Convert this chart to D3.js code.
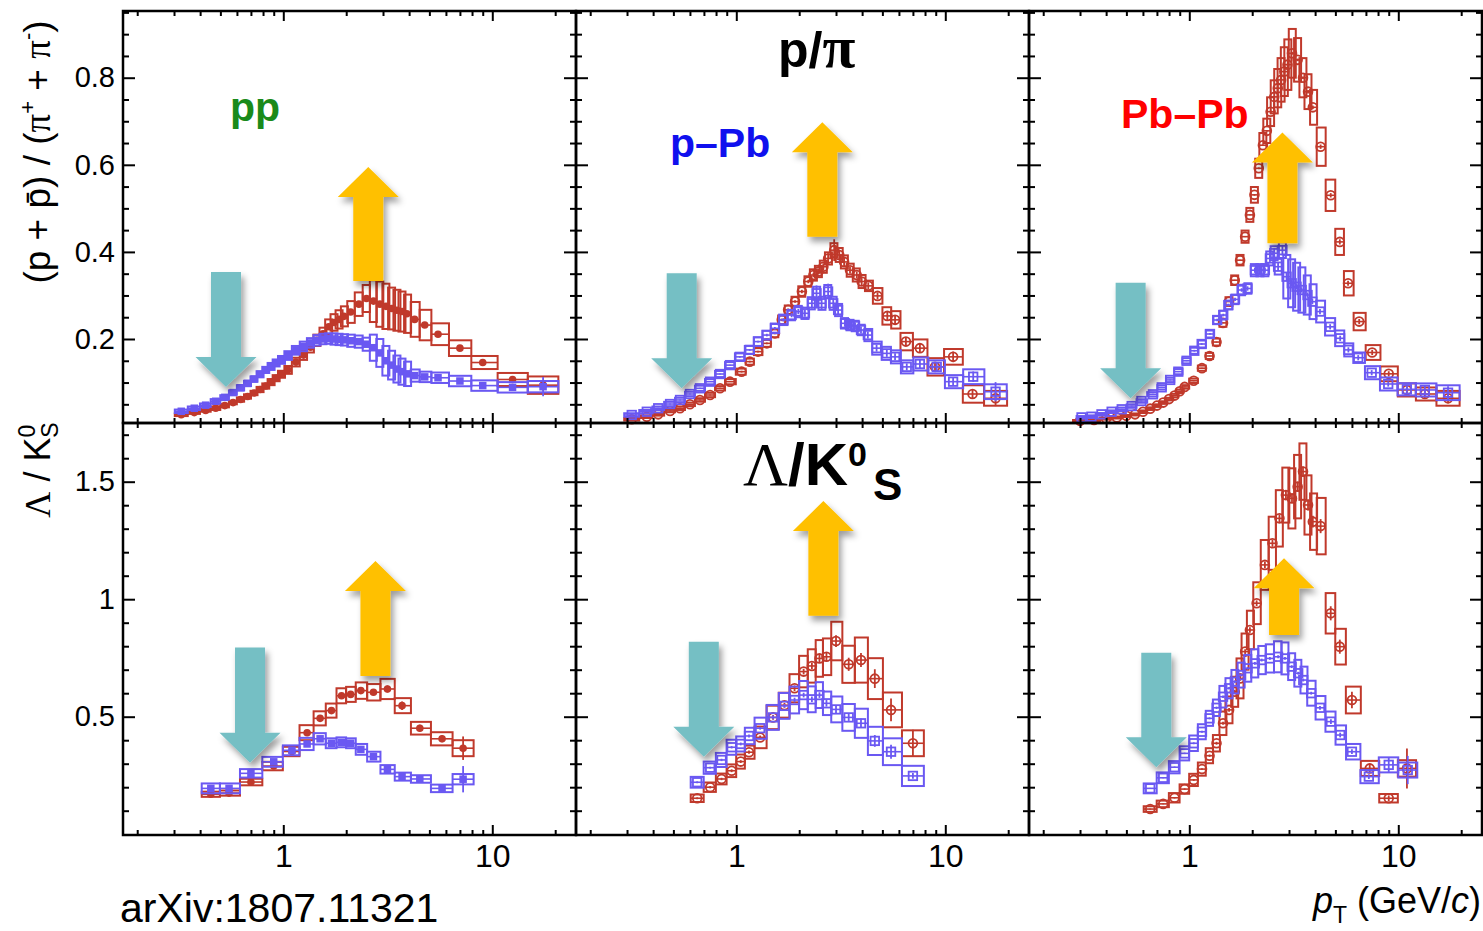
<!DOCTYPE html>
<html>
<head>
<meta charset="utf-8">
<script src="https://cdn.jsdelivr.net/npm/d3@7/dist/d3.min.js"></script>
<style>
  html, body { margin: 0; padding: 0; background: #fff; }
  svg { display: block; }
  text { font-family: "Liberation Sans", Arial, Helvetica, sans-serif; }
</style>
</head>
<body>
<svg id="chart" width="1483" height="931"></svg>
<script>
// ================= p/pi : pp (high / low multiplicity) =================
const ppPiPt = [0.325,0.375,0.425,0.475,0.525,0.575,0.625,0.675,0.725,0.775,0.825,0.875,0.925,0.975,1.05,1.15,1.25,1.35,1.45,1.55,1.65,1.75,1.85,1.95,2.1,2.3,2.5,2.7,2.9,3.1,3.3,3.5,3.7,3.9,4.25,4.75,5.5,7.0,9.0,12.5,17.5];
const ppPiHigh = [0.026,0.031,0.036,0.041,0.047,0.054,0.061,0.068,0.076,0.084,0.092,0.101,0.110,0.119,0.129,0.147,0.163,0.181,0.197,0.212,0.228,0.238,0.245,0.252,0.262,0.280,0.293,0.287,0.280,0.275,0.270,0.266,0.263,0.258,0.245,0.232,0.211,0.179,0.146,0.107,0.094];
const ppPiHighSys = [0.003,0.003,0.003,0.004,0.004,0.004,0.005,0.005,0.005,0.006,0.006,0.007,0.007,0.008,0.009,0.010,0.011,0.012,0.013,0.014,0.017,0.019,0.021,0.023,0.025,0.027,0.031,0.048,0.052,0.052,0.048,0.047,0.046,0.044,0.040,0.035,0.025,0.018,0.015,0.015,0.020];
const ppPiHighStat = [0.001,0.001,0.001,0.001,0.001,0.001,0.001,0.001,0.001,0.001,0.001,0.001,0.001,0.001,0.001,0.001,0.001,0.001,0.001,0.001,0.001,0.001,0.001,0.001,0.001,0.001,0.001,0.002,0.002,0.002,0.002,0.002,0.002,0.002,0.002,0.002,0.003,0.003,0.004,0.006,0.012];
const ppPiLow = [0.034,0.041,0.048,0.057,0.066,0.077,0.088,0.098,0.108,0.119,0.129,0.137,0.145,0.152,0.162,0.174,0.183,0.191,0.197,0.200,0.201,0.200,0.199,0.198,0.196,0.194,0.188,0.180,0.168,0.150,0.140,0.131,0.125,0.120,0.116,0.113,0.111,0.1035,0.093,0.089,0.0905];
const ppPiLowSys = [0.004,0.004,0.004,0.005,0.005,0.005,0.006,0.006,0.006,0.007,0.007,0.008,0.008,0.009,0.010,0.010,0.011,0.011,0.012,0.012,0.012,0.013,0.013,0.013,0.014,0.014,0.015,0.030,0.032,0.034,0.033,0.031,0.030,0.028,0.014,0.012,0.012,0.012,0.012,0.012,0.013];
const ppPiLowStat = [0.001,0.001,0.001,0.001,0.001,0.001,0.001,0.001,0.001,0.001,0.001,0.001,0.001,0.001,0.001,0.001,0.001,0.001,0.001,0.001,0.001,0.001,0.001,0.001,0.001,0.001,0.001,0.001,0.001,0.001,0.001,0.001,0.001,0.001,0.002,0.002,0.002,0.003,0.004,0.008,0.022];

// ================= p/pi : p-Pb =================
const pPbPiHighPt = [0.316,0.373,0.423,0.482,0.538,0.60,0.67,0.749,0.836,0.933,1.06,1.16,1.27,1.40,1.53,1.65,1.77,1.91,2.06,2.21,2.34,2.47,2.61,2.75,2.94,3.11,3.28,3.50,3.77,3.98,4.28,4.74,5.28,5.75,6.48,7.56,8.93,10.9,13.5,17.4];
const pPbPiHigh = [0.0156,0.0216,0.027,0.0347,0.041,0.050,0.060,0.0714,0.0868,0.102,0.125,0.148,0.171,0.190,0.213,0.244,0.267,0.286,0.309,0.332,0.347,0.355,0.366,0.385,0.404,0.393,0.377,0.358,0.347,0.332,0.322,0.299,0.253,0.244,0.194,0.179,0.136,0.159,0.0737,0.0638];
const pPbPiHighSys = [0.003,0.003,0.003,0.003,0.004,0.004,0.004,0.005,0.005,0.006,0.007,0.007,0.008,0.008,0.009,0.010,0.010,0.011,0.012,0.012,0.013,0.013,0.014,0.014,0.016,0.016,0.015,0.015,0.015,0.015,0.012,0.018,0.020,0.020,0.020,0.020,0.020,0.018,0.020,0.017];
const pPbPiHighStat = [0.001,0.001,0.001,0.001,0.001,0.001,0.001,0.001,0.001,0.001,0.002,0.002,0.002,0.002,0.002,0.003,0.003,0.003,0.004,0.004,0.005,0.006,0.008,0.012,0.025,0.012,0.010,0.008,0.008,0.008,0.008,0.008,0.010,0.010,0.010,0.010,0.010,0.012,0.010,0.018];
const pPbPiLowPt = [0.316,0.373,0.423,0.482,0.538,0.60,0.67,0.749,0.836,0.933,1.04,1.16,1.27,1.40,1.53,1.68,1.84,1.98,2.13,2.30,2.42,2.56,2.75,2.91,3.07,3.31,3.50,3.70,3.95,4.26,4.69,5.25,5.75,6.54,7.56,9.1,10.9,13.6,17.4];
const pPbPiLow = [0.0255,0.033,0.041,0.0507,0.060,0.0737,0.0868,0.102,0.1196,0.140,0.159,0.175,0.194,0.209,0.2245,0.244,0.255,0.263,0.259,0.282,0.305,0.282,0.309,0.282,0.2665,0.236,0.232,0.2298,0.2207,0.209,0.179,0.167,0.159,0.136,0.1426,0.136,0.102,0.1134,0.079];
const pPbPiLowSys = [0.004,0.004,0.004,0.005,0.005,0.005,0.006,0.006,0.007,0.007,0.008,0.009,0.010,0.010,0.011,0.012,0.012,0.013,0.013,0.014,0.015,0.015,0.015,0.015,0.014,0.012,0.012,0.012,0.012,0.014,0.015,0.015,0.015,0.015,0.015,0.015,0.015,0.017,0.017];
const pPbPiLowStat = [0.001,0.001,0.001,0.001,0.001,0.001,0.001,0.001,0.001,0.001,0.002,0.002,0.002,0.003,0.003,0.004,0.005,0.006,0.008,0.012,0.018,0.014,0.018,0.012,0.010,0.008,0.008,0.008,0.008,0.008,0.008,0.008,0.008,0.008,0.009,0.010,0.010,0.012,0.022];

// ================= p/pi : Pb-Pb =================
const PbPbPiHighPt = [0.30,0.35,0.40,0.45,0.50,0.55,0.60,0.65,0.70,0.75,0.80,0.85,0.90,0.95,1.05,1.15,1.25,1.35,1.45,1.55,1.65,1.75,1.85,1.95,2.05,2.15,2.25,2.35,2.45,2.55,2.65,2.75,2.85,2.95,3.10,3.30,3.50,3.70,3.90,4.25,4.75,5.25,5.75,6.50,7.50,9.0,11.0,13.4,17.3];
const PbPbPiHigh = [0.012,0.014,0.0175,0.020,0.0235,0.027,0.033,0.040,0.047,0.054,0.062,0.070,0.080,0.090,0.104,0.133,0.161,0.193,0.237,0.286,0.335,0.381,0.435,0.485,0.531,0.592,0.645,0.678,0.722,0.756,0.776,0.795,0.814,0.830,0.856,0.841,0.800,0.768,0.732,0.6416,0.530,0.423,0.328,0.240,0.169,0.120,0.083,0.0737,0.0638];
const PbPbPiHighSys = [0.002,0.002,0.002,0.002,0.002,0.002,0.003,0.003,0.003,0.003,0.003,0.004,0.004,0.004,0.005,0.006,0.007,0.008,0.009,0.010,0.011,0.012,0.014,0.016,0.018,0.022,0.028,0.028,0.033,0.038,0.044,0.050,0.056,0.058,0.056,0.050,0.045,0.040,0.040,0.044,0.036,0.030,0.028,0.020,0.017,0.017,0.015,0.015,0.017];
const PbPbPiHighStat = [0.001,0.001,0.001,0.001,0.001,0.001,0.001,0.001,0.001,0.001,0.001,0.001,0.001,0.001,0.001,0.001,0.001,0.001,0.001,0.001,0.001,0.001,0.001,0.001,0.002,0.002,0.002,0.002,0.002,0.002,0.002,0.002,0.002,0.002,0.003,0.003,0.003,0.004,0.004,0.005,0.005,0.006,0.006,0.006,0.006,0.006,0.008,0.010,0.012];
const PbPbPiLowPt = [0.305,0.34,0.38,0.425,0.475,0.53,0.59,0.67,0.738,0.81,0.886,0.97,1.057,1.146,1.256,1.36,1.454,1.537,1.655,1.78,1.90,2.06,2.18,2.30,2.43,2.55,2.66,2.79,2.92,3.09,3.26,3.45,3.68,3.88,4.22,4.72,5.27,5.77,6.43,7.46,8.95,10.99,13.4,17.3];
const PbPbPiLow = [0.020,0.0216,0.027,0.033,0.0386,0.046,0.0576,0.073,0.089,0.106,0.125,0.150,0.173,0.1885,0.2115,0.2436,0.255,0.278,0.291,0.3125,0.316,0.358,0.358,0.358,0.385,0.397,0.366,0.404,0.343,0.328,0.320,0.3125,0.301,0.2857,0.263,0.228,0.2016,0.175,0.157,0.1226,0.0967,0.0845,0.083,0.0767];
const PbPbPiLowSys = [0.003,0.003,0.003,0.003,0.004,0.004,0.004,0.005,0.005,0.005,0.006,0.006,0.007,0.008,0.008,0.009,0.010,0.010,0.011,0.012,0.012,0.014,0.014,0.014,0.016,0.016,0.018,0.018,0.050,0.055,0.055,0.052,0.045,0.040,0.025,0.020,0.018,0.015,0.012,0.015,0.015,0.014,0.015,0.017];
const PbPbPiLowStat = [0.001,0.001,0.001,0.001,0.001,0.001,0.001,0.001,0.001,0.001,0.001,0.001,0.002,0.002,0.002,0.003,0.003,0.003,0.004,0.004,0.005,0.006,0.006,0.006,0.008,0.012,0.010,0.012,0.010,0.008,0.006,0.006,0.006,0.006,0.006,0.006,0.006,0.006,0.006,0.006,0.006,0.008,0.010,0.015];

// ================= Lambda/K0S : pp =================
const ppLKPt = [0.45,0.55,0.70,0.90,1.10,1.30,1.50,1.70,1.90,2.10,2.35,2.70,3.15,3.70,4.50,5.75,7.25];
const ppLKHigh = [0.170,0.175,0.222,0.290,0.352,0.432,0.493,0.526,0.589,0.595,0.611,0.604,0.618,0.547,0.451,0.406,0.366];
const ppLKHighSys = [0.011,0.011,0.014,0.018,0.020,0.032,0.030,0.030,0.032,0.032,0.035,0.035,0.043,0.032,0.027,0.028,0.034];
const ppLKHighStat = [0.002,0.002,0.003,0.004,0.004,0.006,0.006,0.006,0.008,0.008,0.010,0.012,0.015,0.018,0.015,0.015,0.050];
const ppLKLow = [0.195,0.195,0.259,0.308,0.357,0.384,0.406,0.387,0.391,0.387,0.361,0.330,0.276,0.245,0.235,0.195,0.234];
const ppLKLowSys = [0.021,0.021,0.018,0.021,0.021,0.026,0.024,0.021,0.021,0.021,0.023,0.021,0.018,0.017,0.016,0.016,0.022];
const ppLKLowStat = [0.002,0.002,0.003,0.003,0.004,0.005,0.005,0.005,0.006,0.006,0.006,0.007,0.008,0.008,0.010,0.016,0.056];

// ================= Lambda/K0S : p-Pb =================
const pPbLKPt = [0.65,0.75,0.85,0.95,1.05,1.15,1.3,1.5,1.7,1.9,2.1,2.3,2.5,2.7,3.0,3.45,3.95,4.6,5.5,7.0];
const pPbLKHigh = [0.153,0.200,0.235,0.270,0.309,0.349,0.412,0.497,0.549,0.621,0.692,0.716,0.748,0.755,0.822,0.723,0.741,0.662,0.529,0.387];
const pPbLKHighSys = [0.016,0.020,0.023,0.027,0.030,0.028,0.046,0.050,0.053,0.060,0.067,0.071,0.078,0.078,0.082,0.079,0.096,0.087,0.074,0.055];
const pPbLKHighStat = [0.004,0.005,0.005,0.006,0.006,0.007,0.008,0.010,0.010,0.012,0.012,0.014,0.016,0.018,0.025,0.028,0.030,0.040,0.048,0.058];
const pPbLKLow = [0.221,0.283,0.316,0.370,0.384,0.418,0.451,0.497,0.546,0.571,0.592,0.574,0.592,0.557,0.531,0.497,0.472,0.397,0.351,0.248];
const pPbLKLowSys = [0.023,0.026,0.030,0.032,0.032,0.035,0.045,0.053,0.055,0.057,0.060,0.055,0.055,0.050,0.055,0.057,0.062,0.060,0.057,0.043];
const pPbLKLowStat = [0.004,0.004,0.005,0.005,0.006,0.006,0.006,0.008,0.008,0.010,0.010,0.012,0.012,0.014,0.015,0.015,0.020,0.025,0.030,0.012];

// ================= Lambda/K0S : Pb-Pb =================
const PbPbLKHighPt = [0.65,0.75,0.85,0.95,1.05,1.15,1.25,1.35,1.45,1.55,1.65,1.75,1.85,1.95,2.10,2.30,2.50,2.70,2.90,3.10,3.30,3.50,3.70,3.90,4.25,4.75,5.25,6.0,7.3,9.0,11.0];
const PbPbLKHigh = [0.107,0.129,0.155,0.192,0.231,0.277,0.334,0.387,0.472,0.529,0.606,0.663,0.777,0.869,0.983,1.146,1.238,1.344,1.443,1.429,1.479,1.543,1.401,1.330,1.311,0.940,0.798,0.571,0.280,0.153,0.280];
const PbPbLKHighSys = [0.012,0.014,0.020,0.020,0.026,0.028,0.032,0.035,0.050,0.057,0.064,0.085,0.077,0.082,0.089,0.106,0.113,0.120,0.117,0.128,0.135,0.120,0.126,0.120,0.120,0.086,0.076,0.057,0.032,0.018,0.035];
const PbPbLKHighStat = [0.002,0.002,0.003,0.003,0.004,0.004,0.005,0.006,0.006,0.008,0.008,0.010,0.010,0.012,0.012,0.014,0.015,0.016,0.018,0.020,0.020,0.022,0.024,0.025,0.030,0.030,0.030,0.035,0.020,0.012,0.085];
const PbPbLKLowPt = [0.65,0.75,0.85,0.95,1.05,1.15,1.25,1.35,1.45,1.55,1.65,1.77,1.90,2.06,2.22,2.43,2.66,2.87,3.09,3.32,3.51,3.83,4.22,4.76,5.27,6.0,7.23,9.0,11.1];
const PbPbLKLow = [0.195,0.240,0.285,0.344,0.387,0.436,0.493,0.538,0.585,0.621,0.649,0.677,0.706,0.727,0.741,0.748,0.755,0.748,0.713,0.685,0.656,0.600,0.538,0.479,0.422,0.351,0.245,0.295,0.273];
const PbPbLKLowSys = [0.021,0.023,0.026,0.030,0.033,0.032,0.032,0.035,0.046,0.043,0.050,0.053,0.057,0.060,0.060,0.060,0.066,0.068,0.057,0.057,0.057,0.053,0.050,0.043,0.041,0.033,0.028,0.032,0.032];
const PbPbLKLowStat = [0.002,0.002,0.003,0.003,0.004,0.004,0.004,0.005,0.005,0.005,0.006,0.006,0.006,0.006,0.006,0.006,0.006,0.006,0.006,0.006,0.006,0.006,0.008,0.010,0.010,0.010,0.010,0.030,0.060];

// ================= axis ticks =================
const xMajorTicks = [1, 10];
const xMinorTicks = [0.2,0.3,0.4,0.5,0.6,0.7,0.8,0.9,2,3,4,5,6,7,8,9,20];
const yTopMajor = [0.2, 0.4, 0.6, 0.8];
const yTopMinor = [0.05,0.1,0.15,0.25,0.3,0.35,0.45,0.5,0.55,0.65,0.7,0.75,0.85,0.9,0.95];
const yBotMajor = [0.5, 1, 1.5];
const yBotMinor = [0.1,0.2,0.3,0.4,0.6,0.7,0.8,0.9,1.1,1.2,1.3,1.4,1.6,1.7];

// ================= arrows (panel order: top L,M,R then bottom L,M,R) =================
const downArrowPt   = [0.532, 0.548, 0.524, 0.693, 0.699, 0.695];
const downArrowFrom = [0.354, 0.351, 0.329, 0.794, 0.819, 0.772];
const downArrowTo   = [0.090, 0.087, 0.064, 0.304, 0.330, 0.285];
const upArrowPt     = [2.55, 2.58, 2.79, 2.76, 2.61, 2.84];
const upArrowFrom   = [0.333, 0.435, 0.420, 0.673, 0.930, 0.848];
const upArrowTo     = [0.595, 0.698, 0.674, 1.163, 1.418, 1.174];

// ================= layout & scales =================
const RED = "#c0392b", BLUE = "#6a58f2";
const colX = [123, 576, 1029];
const panelW = 453;
const rowTop = [11, 423], rowBot = [423, 835];

const x = d3.scaleLog().domain([0.171, 25.15]).range([0, panelW]);
const yScale = [
  d3.scaleLinear().domain([0.0071, 0.9532]).range([rowBot[0], rowTop[0]]),
  d3.scaleLinear().domain([-0.0034, 1.7498]).range([rowBot[1], rowTop[1]])
];

const svg = d3.select("#chart");
const defs = svg.append("defs");
defs.append("filter").attr("id", "arrowShadow")
  .attr("x", "-40%").attr("y", "-20%").attr("width", "180%").attr("height", "150%")
  .append("feDropShadow")
  .attr("dx", 3).attr("dy", 5).attr("stdDeviation", 3)
  .attr("flood-color", "#000").attr("flood-opacity", 0.38);

function series(pt, val, sys, stat, color, filled) {
  return { pts: pt.map((p, i) => ({ pt: p, v: val[i], sys: sys[i], stat: stat[i] })), color, filled };
}

const panels = [
  { col: 0, row: 0, series: [
    series(ppPiPt, ppPiHigh, ppPiHighSys, ppPiHighStat, RED, true),
    series(ppPiPt, ppPiLow, ppPiLowSys, ppPiLowStat, BLUE, true) ] },
  { col: 1, row: 0, series: [
    series(pPbPiHighPt, pPbPiHigh, pPbPiHighSys, pPbPiHighStat, RED, false),
    series(pPbPiLowPt, pPbPiLow, pPbPiLowSys, pPbPiLowStat, BLUE, false) ] },
  { col: 2, row: 0, series: [
    series(PbPbPiHighPt, PbPbPiHigh, PbPbPiHighSys, PbPbPiHighStat, RED, false),
    series(PbPbPiLowPt, PbPbPiLow, PbPbPiLowSys, PbPbPiLowStat, BLUE, false) ] },
  { col: 0, row: 1, series: [
    series(ppLKPt, ppLKHigh, ppLKHighSys, ppLKHighStat, RED, true),
    series(ppLKPt, ppLKLow, ppLKLowSys, ppLKLowStat, BLUE, true) ] },
  { col: 1, row: 1, series: [
    series(pPbLKPt, pPbLKHigh, pPbLKHighSys, pPbLKHighStat, RED, false),
    series(pPbLKPt, pPbLKLow, pPbLKLowSys, pPbLKLowStat, BLUE, false) ] },
  { col: 2, row: 1, series: [
    series(PbPbLKHighPt, PbPbLKHigh, PbPbLKHighSys, PbPbLKHighStat, RED, false),
    series(PbPbLKLowPt, PbPbLKLow, PbPbLKLowSys, PbPbLKLowStat, BLUE, false) ] }
];

// systematic boxes span the bin: halfway (in log pT) to the neighbouring points
function binEdges(pts) {
  const px = pts.map(d => x(d.pt));
  return px.map((c, i) => {
    const l = i > 0 ? (px[i - 1] + c) / 2 : c - (px[1] - c) / 2;
    const r = i < px.length - 1 ? (c + px[i + 1]) / 2 : c + (c - px[i - 1]) / 2;
    const half = Math.max(3.5, (r - l) / 2);
    const mid = (l + r) / 2;
    return [mid - half, mid + half];
  });
}

function styleAxis(fontSize) {
  return g => {
    g.select(".domain").remove();
    g.attr("font-family", "'Liberation Sans', Arial, sans-serif").attr("font-size", fontSize || 10);
    g.selectAll(".tick line").attr("stroke", "#000").attr("stroke-width", 2);
    g.selectAll(".tick text").attr("fill", "#000").attr("font-size", fontSize || 10);
  };
}

panels.forEach(p => {
  const y = yScale[p.row];
  const g = svg.append("g").attr("transform", `translate(${colX[p.col]},0)`);

  p.series.forEach(s => {
    const edges = binEdges(s.pts);
    const sg = g.append("g").attr("stroke", s.color).attr("fill", "none");
    // systematic boxes
    sg.selectAll("rect.sys").data(s.pts).join("rect").attr("class", "sys")
      .attr("x", (d, i) => edges[i][0])
      .attr("width", (d, i) => edges[i][1] - edges[i][0])
      .attr("y", d => y(d.v + d.sys))
      .attr("height", d => Math.max(2, y(d.v - d.sys) - y(d.v + d.sys)))
      .attr("stroke-width", 2);
    // horizontal bin bar
    sg.selectAll("line.xerr").data(s.pts).join("line").attr("class", "xerr")
      .attr("x1", (d, i) => edges[i][0]).attr("x2", (d, i) => edges[i][1])
      .attr("y1", d => y(d.v)).attr("y2", d => y(d.v))
      .attr("stroke-width", 1.6);
    // statistical bars
    sg.selectAll("line.stat").data(s.pts).join("line").attr("class", "stat")
      .attr("x1", d => x(d.pt)).attr("x2", d => x(d.pt))
      .attr("y1", d => y(d.v - d.stat)).attr("y2", d => y(d.v + d.stat))
      .attr("stroke-width", 1.8);
    // markers
    if (s.color === RED) {
      sg.selectAll("circle.mk").data(s.pts).join("circle").attr("class", "mk")
        .attr("cx", d => x(d.pt)).attr("cy", d => y(d.v))
        .attr("r", s.filled ? 3.8 : 4.4)
        .attr("fill", s.filled ? s.color : "none")
        .attr("stroke-width", s.filled ? 0 : 1.8);
    } else {
      const sz = s.filled ? 7.5 : 8.5;
      sg.selectAll("rect.mk").data(s.pts).join("rect").attr("class", "mk")
        .attr("x", d => x(d.pt) - sz / 2).attr("y", d => y(d.v) - sz / 2)
        .attr("width", sz).attr("height", sz)
        .attr("fill", s.filled ? s.color : "none")
        .attr("stroke-width", s.filled ? 0 : 1.8);
    }
  });

  // ticks on all four sides, pointing inward
  const top = rowTop[p.row], bot = rowBot[p.row];
  const majors = p.row === 0 ? yTopMajor : yBotMajor;
  const minors = p.row === 0 ? yTopMinor : yBotMinor;
  const fmt = p.row === 0 ? d3.format(".1f") : (d => String(d));

  g.append("g")
    .call(d3.axisLeft(y).tickValues(majors).tickSize(-12).tickPadding(8)
      .tickFormat(p.col === 0 ? fmt : () => ""))
    .call(styleAxis(29));
  g.append("g").call(d3.axisLeft(y).tickValues(minors).tickSize(-6).tickFormat(() => "")).call(styleAxis());
  g.append("g").attr("transform", `translate(${panelW},0)`)
    .call(d3.axisRight(y).tickValues(majors).tickSize(-12).tickFormat(() => "")).call(styleAxis());
  g.append("g").attr("transform", `translate(${panelW},0)`)
    .call(d3.axisRight(y).tickValues(minors).tickSize(-6).tickFormat(() => "")).call(styleAxis());

  g.append("g").attr("transform", `translate(0,${bot})`)
    .call(d3.axisBottom(x).tickValues(xMajorTicks).tickSize(-10).tickPadding(9)
      .tickFormat(p.row === 1 ? (d => String(d)) : () => ""))
    .call(styleAxis(32));
  g.append("g").attr("transform", `translate(0,${bot})`)
    .call(d3.axisBottom(x).tickValues(xMinorTicks).tickSize(-5).tickFormat(() => "")).call(styleAxis());
  g.append("g").attr("transform", `translate(0,${top})`)
    .call(d3.axisTop(x).tickValues(xMajorTicks).tickSize(-10).tickFormat(() => "")).call(styleAxis());
  g.append("g").attr("transform", `translate(0,${top})`)
    .call(d3.axisTop(x).tickValues(xMinorTicks).tickSize(-5).tickFormat(() => "")).call(styleAxis());

  g.append("rect").attr("x", 0).attr("y", top).attr("width", panelW).attr("height", bot - top)
    .attr("fill", "none").attr("stroke", "#000").attr("stroke-width", 2.5);
});

// ================= block arrows =================
function arrowPath(cx, yTail, yTip) {
  const dir = yTip > yTail ? 1 : -1;
  const hb = yTip - dir * 30;
  const sw = 15, hw = 30.5;
  return `M${cx - sw},${yTail} L${cx + sw},${yTail} L${cx + sw},${hb} L${cx + hw},${hb} L${cx},${yTip} L${cx - hw},${hb} L${cx - sw},${hb} Z`;
}
const panelOrder = [[0, 0], [1, 0], [2, 0], [0, 1], [1, 1], [2, 1]];
const arrowLayer = svg.append("g");
panelOrder.forEach(([c, r], i) => {
  const y = yScale[r];
  arrowLayer.append("path")
    .attr("d", arrowPath(colX[c] + x(downArrowPt[i]), y(downArrowFrom[i]), y(downArrowTo[i])))
    .attr("fill", "#74bfc4").attr("filter", "url(#arrowShadow)");
  arrowLayer.append("path")
    .attr("d", arrowPath(colX[c] + x(upArrowPt[i]), y(upArrowFrom[i]), y(upArrowTo[i])))
    .attr("fill", "#ffc000").attr("filter", "url(#arrowShadow)");
});

// ================= labels =================
svg.append("text").attr("x", 230).attr("y", 121).attr("font-size", 41).attr("font-weight", "bold")
  .attr("fill", "#1a8a1a").text("pp");
svg.append("text").attr("x", 670).attr("y", 157).attr("font-size", 41).attr("font-weight", "bold")
  .attr("fill", "#1010ee").text("p\u2013Pb");
svg.append("text").attr("x", 1121).attr("y", 128).attr("font-size", 41).attr("font-weight", "bold")
  .attr("fill", "#ff0000").text("Pb\u2013Pb");

// row titles
const serif = "'Liberation Serif', 'Times New Roman', serif";
const t1 = svg.append("text").attr("x", 778).attr("y", 67).attr("font-size", 50).attr("font-weight", "bold");
t1.append("tspan").text("p/");
t1.append("tspan").attr("font-family", serif).attr("font-size", 60).text("\u03c0");

const t2 = svg.append("text").attr("x", 743).attr("y", 485).attr("font-size", 60).attr("font-weight", "bold");
t2.append("tspan").attr("font-family", serif).attr("font-weight", "normal").attr("font-size", 62).text("\u039b");
t2.append("tspan").text("/K");
t2.append("tspan").attr("font-size", 34).attr("dy", -19).text("0");
t2.append("tspan").attr("font-size", 44).attr("dx", 6).attr("dy", 34).text("S");

// y-axis titles
const yt1 = svg.append("text").attr("transform", "translate(50,152) rotate(-90)")
  .attr("text-anchor", "middle").attr("font-size", 37);
yt1.append("tspan").text("(p + p\u0304) / (");
yt1.append("tspan").attr("font-family", serif).text("\u03c0");
yt1.append("tspan").attr("font-size", 22).attr("dy", -15).text("+");
yt1.append("tspan").attr("dy", 15).text(" + ");
yt1.append("tspan").attr("font-family", serif).text("\u03c0");
yt1.append("tspan").attr("font-size", 22).attr("dy", -15).text("-");
yt1.append("tspan").attr("dy", 15).text(")");

const yt2 = svg.append("text").attr("transform", "translate(50,470) rotate(-90)")
  .attr("text-anchor", "middle").attr("font-size", 36);
yt2.append("tspan").attr("font-family", serif).text("\u039b");
yt2.append("tspan").text(" / K");
yt2.append("tspan").attr("font-size", 23).attr("dy", -15).text("0");
yt2.append("tspan").attr("font-size", 23).attr("dx", -13).attr("dy", 23).text("S");

// x-axis title
const xt = svg.append("text").attr("x", 1481).attr("y", 913).attr("text-anchor", "end").attr("font-size", 36);
xt.append("tspan").attr("font-style", "italic").text("p");
xt.append("tspan").attr("font-size", 23).attr("dy", 10).text("T");
xt.append("tspan").attr("dy", -10).attr("dx", 10).text("(GeV/");
xt.append("tspan").attr("font-style", "italic").text("c");
xt.append("tspan").text(")");

svg.append("text").attr("x", 120).attr("y", 922).attr("font-size", 41).text("arXiv:1807.11321");
</script>
</body>
</html>
